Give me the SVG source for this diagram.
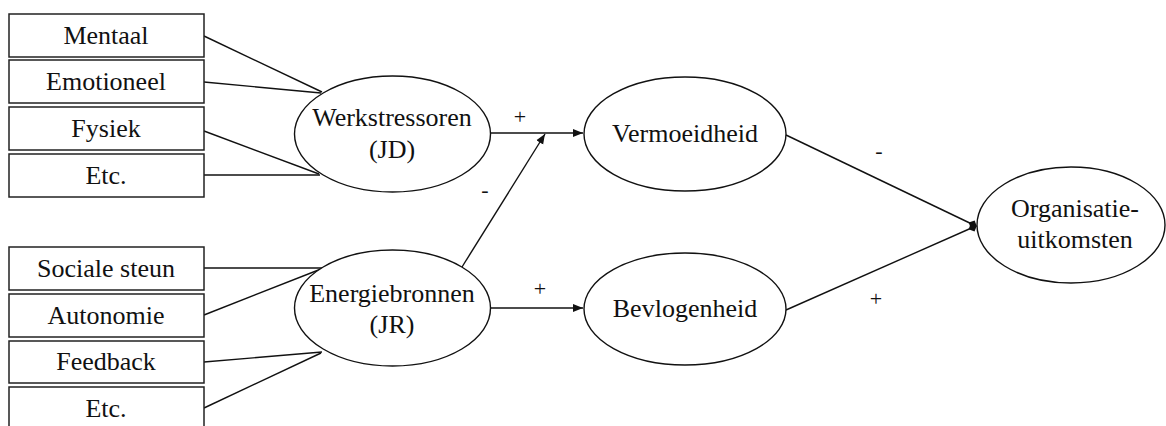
<svg xmlns="http://www.w3.org/2000/svg" width="1166" height="426" viewBox="0 0 1166 426">
<defs>
<style>
.box{fill:#fff;stroke:#222;stroke-width:1.5}
.ell{fill:#fff;stroke:#111;stroke-width:1.4}
.t{font-family:"Liberation Serif","Times New Roman",serif;font-size:26px;fill:#111;text-anchor:middle}
.s{font-family:"Liberation Serif","Times New Roman",serif;font-size:22px;fill:#111;text-anchor:middle}
.c{fill:none;stroke:#111;stroke-width:1.4}
</style>
<marker id="arr" viewBox="0 0 10 10" refX="10" refY="5" markerWidth="10" markerHeight="10" markerUnits="userSpaceOnUse" orient="auto">
<path d="M0,1 L10,5 L0,9 z" fill="#111"/>
</marker>
<marker id="dot" viewBox="0 0 10 10" refX="9" refY="5" markerWidth="9" markerHeight="9" markerUnits="userSpaceOnUse" orient="auto">
<path d="M0,5 L5,0 L10,5 L5,10 z" fill="#111"/>
</marker>
</defs>
<rect width="1166" height="426" fill="#fff"/>
<g id="connectors">
<line class="c" x1="204" y1="36" x2="322" y2="92"/>
<line class="c" x1="204" y1="82" x2="321" y2="93"/>
<line class="c" x1="204" y1="131" x2="319" y2="174"/>
<line class="c" x1="204" y1="175" x2="320" y2="175"/>
<line class="c" x1="204" y1="268" x2="322" y2="268"/>
<line class="c" x1="204" y1="315" x2="321" y2="269"/>
<line class="c" x1="204" y1="362" x2="322" y2="352"/>
<line class="c" x1="204" y1="408" x2="321" y2="353"/>
<line class="c" x1="491" y1="133" x2="583" y2="133" marker-end="url(#arr)"/>
<line class="c" x1="462" y1="267" x2="545" y2="134" marker-end="url(#arr)"/>
<line class="c" x1="491" y1="308" x2="583" y2="308" marker-end="url(#arr)"/>
<line class="c" x1="786" y1="135" x2="976" y2="226" marker-end="url(#dot)"/>
<line class="c" x1="786" y1="310" x2="976" y2="226" marker-end="url(#dot)"/>
<text class="s" x="520" y="124">+</text>
<text class="s" x="485" y="197">-</text>
<text class="s" x="540" y="296">+</text>
<text class="s" x="879" y="158">-</text>
<text class="s" x="876" y="306">+</text>
</g>
<g id="n-mentaal"><rect class="box" x="9" y="14" width="195" height="43"/><text class="t" x="106" y="44">Mentaal</text></g>
<g id="n-emotioneel"><rect class="box" x="9" y="60" width="195" height="43"/><text class="t" x="106" y="90">Emotioneel</text></g>
<g id="n-fysiek"><rect class="box" x="9" y="107" width="195" height="43"/><text class="t" x="106" y="137">Fysiek</text></g>
<g id="n-etc1"><rect class="box" x="9" y="154" width="195" height="43"/><text class="t" x="106" y="184">Etc.</text></g>
<g id="n-sociale"><rect class="box" x="9" y="247" width="195" height="43"/><text class="t" x="106" y="277">Sociale steun</text></g>
<g id="n-autonomie"><rect class="box" x="9" y="294" width="195" height="43"/><text class="t" x="106" y="324">Autonomie</text></g>
<g id="n-feedback"><rect class="box" x="9" y="341" width="195" height="42"/><text class="t" x="106" y="370">Feedback</text></g>
<g id="n-etc2"><rect class="box" x="9" y="387" width="195" height="50"/><text class="t" x="106" y="417">Etc.</text></g>
<g id="n-werk"><ellipse class="ell" cx="392.5" cy="134" rx="98" ry="58"/><text class="t" x="392" y="126">Werkstressoren</text><text class="t" x="392" y="158">(JD)</text></g>
<g id="n-energie"><ellipse class="ell" cx="392.5" cy="308" rx="98" ry="58"/><text class="t" x="392" y="302">Energiebronnen</text><text class="t" x="392" y="333">(JR)</text></g>
<g id="n-vermoeid"><ellipse class="ell" cx="685" cy="134" rx="101" ry="57"/><text class="t" x="685" y="142">Vermoeidheid</text></g>
<g id="n-bevlogen"><ellipse class="ell" cx="685" cy="309" rx="101" ry="56"/><text class="t" x="685" y="317">Bevlogenheid</text></g>
<g id="n-org"><ellipse class="ell" cx="1071" cy="225" rx="94" ry="58"/><text class="t" x="1075" y="217">Organisatie-</text><text class="t" x="1075" y="248">uitkomsten</text></g>
</svg>
